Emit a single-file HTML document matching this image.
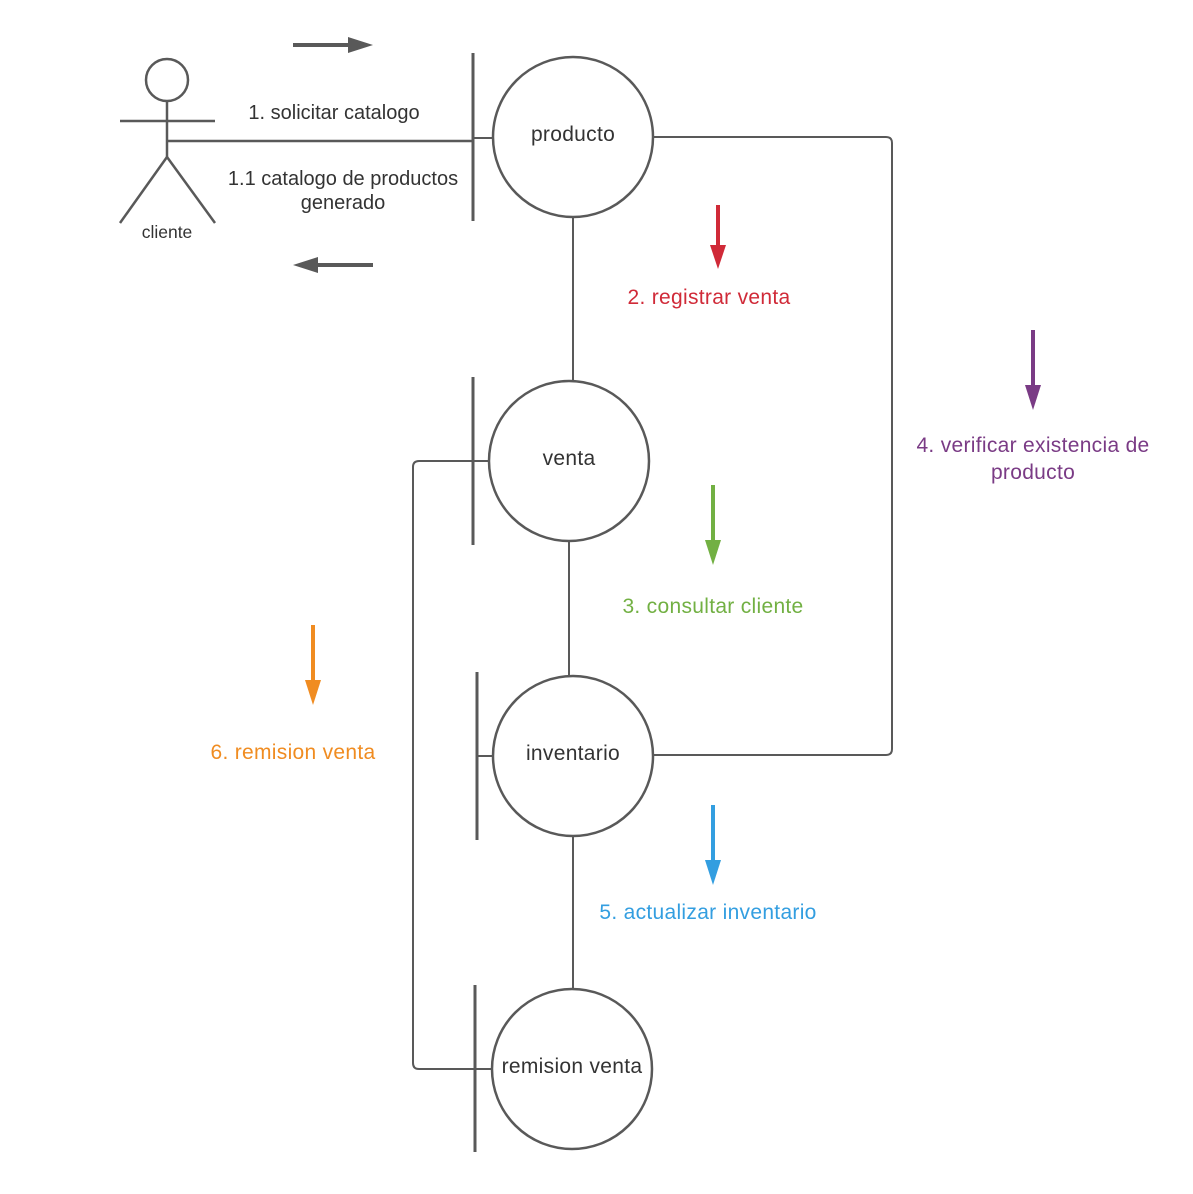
<!DOCTYPE html>
<html><head><meta charset="utf-8"><style>
html,body{margin:0;padding:0;background:#fff;}
svg{display:block;}
text{font-family:"Liberation Sans",Arial,sans-serif;}
</style></head><body>
<svg width="1193" height="1194" viewBox="0 0 1193 1194" xmlns="http://www.w3.org/2000/svg">
<g fill="none" stroke="#595959" stroke-width="2.5">
<circle cx="167" cy="80" r="21"/>
<line x1="167" y1="101" x2="167" y2="157"/>
<line x1="120" y1="121" x2="215" y2="121"/>
<line x1="167" y1="157" x2="120" y2="223"/>
<line x1="167" y1="157" x2="215" y2="223"/>
<line x1="167" y1="141" x2="473" y2="141"/>
</g>
<g fill="none" stroke="#595959" stroke-width="2">
<line x1="473" y1="53" x2="473" y2="221" stroke-width="3"/>
<line x1="473" y1="138" x2="493" y2="138"/>
<line x1="473" y1="377" x2="473" y2="545" stroke-width="3"/>
<line x1="477" y1="672" x2="477" y2="840" stroke-width="3"/>
<line x1="477" y1="756" x2="493" y2="756"/>
<line x1="475" y1="985" x2="475" y2="1152" stroke-width="3"/>
<circle cx="573" cy="137" r="80" stroke-width="2.5"/>
<circle cx="569" cy="461" r="80" stroke-width="2.5"/>
<circle cx="573" cy="756" r="80" stroke-width="2.5"/>
<circle cx="572" cy="1069" r="80" stroke-width="2.5"/>
<line x1="573" y1="217" x2="573" y2="381"/>
<line x1="569" y1="541" x2="569" y2="676"/>
<line x1="573" y1="836" x2="573" y2="989"/>
<path d="M653 137 H886 Q892 137 892 143 V749 Q892 755 886 755 H653"/>
<path d="M489 461 H419 Q413 461 413 467 V1063 Q413 1069 419 1069 H492"/>
</g>
<g>
<rect x="293" y="43" width="56" height="4" fill="#595959"/><polygon points="348,37 373,45 348,53" fill="#595959"/>
<rect x="317" y="263" width="56" height="4" fill="#595959"/><polygon points="318,257 293,265 318,273" fill="#595959"/>
<rect x="716" y="205" width="4" height="42" fill="#d02a38"/><polygon points="710,245 726,245 718,269" fill="#d02a38"/>
<rect x="711" y="485" width="4" height="57" fill="#72b043"/><polygon points="705,540 721,540 713,565" fill="#72b043"/>
<rect x="1031" y="330" width="4" height="57" fill="#7a3b85"/><polygon points="1025,385 1041,385 1033,410" fill="#7a3b85"/>
<rect x="311" y="625" width="4" height="57" fill="#f08c21"/><polygon points="305,680 321,680 313,705" fill="#f08c21"/>
<rect x="711" y="805" width="4" height="57" fill="#339ee0"/><polygon points="705,860 721,860 713,885" fill="#339ee0"/>
</g>
<g font-size="21" letter-spacing="0.3" fill="#333" text-anchor="middle">
<text x="573" y="141">producto</text>
<text x="569" y="465">venta</text>
<text x="573" y="760">inventario</text>
<text x="572" y="1073">remision venta</text>
<text x="334" y="119" font-size="20" letter-spacing="0">1. solicitar catalogo</text>
<text x="343" y="185" font-size="20" letter-spacing="0">1.1 catalogo de productos</text>
<text x="343" y="209" font-size="20" letter-spacing="0">generado</text>
<text x="167" y="238" font-size="17.5" letter-spacing="0">cliente</text>
<text x="709" y="304" fill="#d02a38">2. registrar venta</text>
<text x="713" y="613" fill="#72b043">3. consultar cliente</text>
<text x="1033" y="452" fill="#7a3b85">4. verificar existencia de</text>
<text x="1033" y="479" fill="#7a3b85">producto</text>
<text x="708" y="919" fill="#339ee0">5. actualizar inventario</text>
<text x="293" y="759" fill="#f08c21">6. remision venta</text>
</g>
</svg>
</body></html>
